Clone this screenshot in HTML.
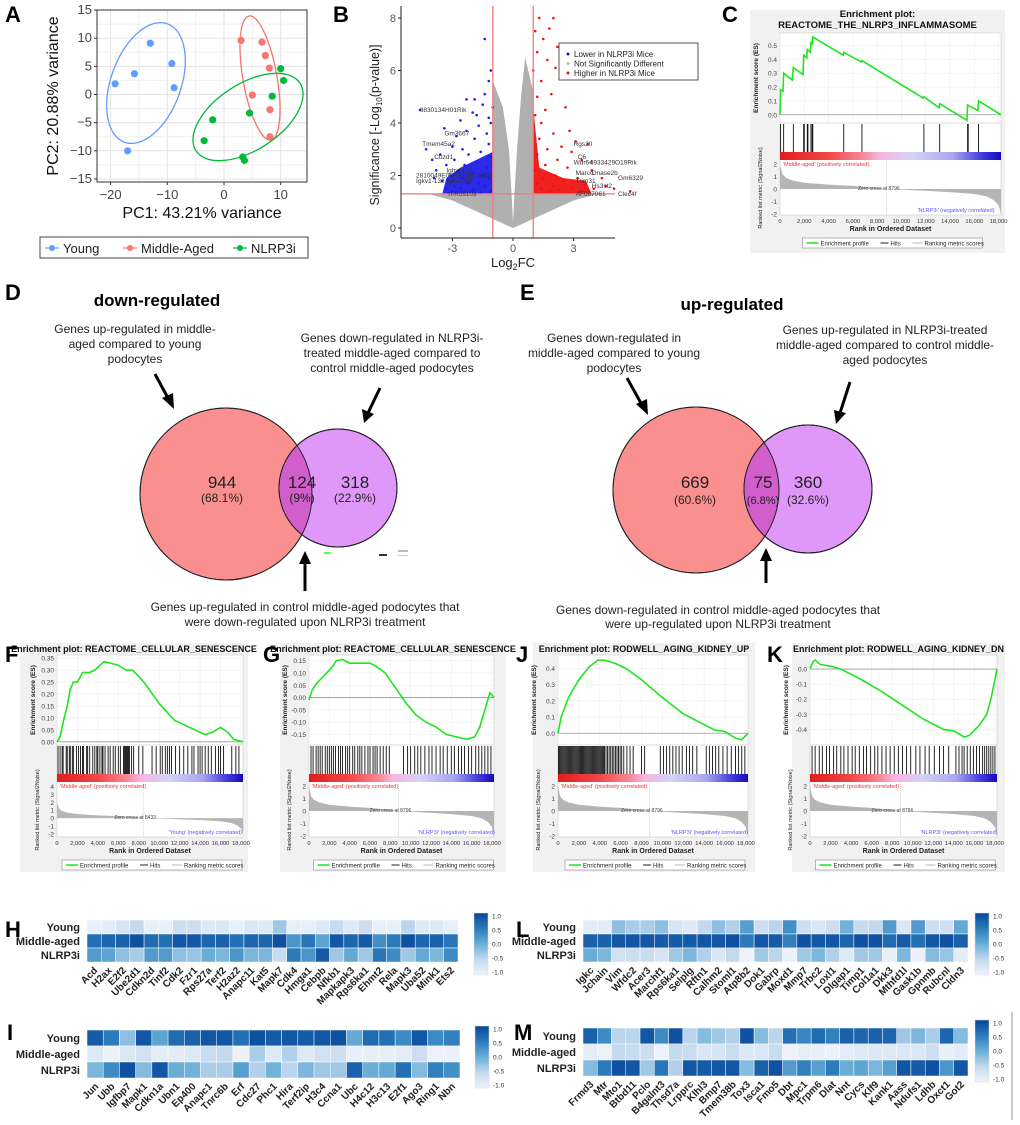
<!DOCTYPE html>
<html><head><meta charset="utf-8"><style>
html,body{margin:0;padding:0;background:#fff;}
svg{display:block;font-family:"Liberation Sans",sans-serif;}
.pl{font-weight:bold;font-size:22px;}
</style></head><body>
<svg id="fig" width="1020" height="1125" viewBox="0 0 1020 1125" xmlns="http://www.w3.org/2000/svg">
<defs>
<linearGradient id="rankbar" x1="0" x2="1" y1="0" y2="0">
<stop offset="0" stop-color="#e41c1c"/><stop offset="0.22" stop-color="#f04848"/><stop offset="0.38" stop-color="#f58a9a"/><stop offset="0.45" stop-color="#f5b5e0"/><stop offset="0.6" stop-color="#d5d2f5"/><stop offset="0.78" stop-color="#a9a6ef"/><stop offset="0.9" stop-color="#4b45e0"/><stop offset="1" stop-color="#1408c0"/>
</linearGradient>
<linearGradient id="cbar" x1="0" x2="0" y1="0" y2="1">
<stop offset="0" stop-color="#08469a"/><stop offset="0.25" stop-color="#2b7bba"/><stop offset="0.5" stop-color="#6aaed6"/><stop offset="0.75" stop-color="#c4d9ee"/><stop offset="1" stop-color="#f0f4fb"/>
</linearGradient>
<clipPath id="clipD"><circle cx="226" cy="494" r="86"/></clipPath>
<clipPath id="clipE"><circle cx="696" cy="490" r="83"/></clipPath>
</defs>

<text class="pl" x="5" y="22">A</text>
<text class="pl" x="333" y="22">B</text>
<text class="pl" x="722" y="22">C</text>
<text class="pl" x="5" y="300">D</text>
<text class="pl" x="520" y="300">E</text>
<text class="pl" x="5" y="662">F</text>
<text class="pl" x="263" y="662">G</text>
<text class="pl" x="516" y="662">J</text>
<text class="pl" x="767" y="662">K</text>
<text class="pl" x="5" y="937">H</text>
<text class="pl" x="7" y="1040">I</text>
<text class="pl" x="516" y="937">L</text>
<text class="pl" x="514" y="1040">M</text>

<g font-size="12" fill="#222">
<text x="157" y="306" font-size="17" font-weight="bold" text-anchor="middle" fill="#000">down-regulated</text>
<g text-anchor="middle"><text x="135" y="333">Genes up-regulated in middle-</text><text x="135" y="348">aged compared to young</text><text x="135" y="363">podocytes</text></g>
<g text-anchor="middle"><text x="392" y="342">Genes down-regulated in NLRP3i-</text><text x="392" y="357">treated middle-aged compared to</text><text x="392" y="372">control middle-aged podocytes</text></g>
<circle cx="226" cy="494" r="86" fill="#f9908f" stroke="#222" stroke-width="1"/>
<circle cx="338" cy="488" r="59" fill="#df97f8" stroke="#222" stroke-width="1"/>
<circle cx="338" cy="488" r="59" fill="#d25ecc" clip-path="url(#clipD)"/>
<circle cx="226" cy="494" r="86" fill="none" stroke="#222" stroke-width="1"/>
<circle cx="338" cy="488" r="59" fill="none" stroke="#222" stroke-width="1"/>
<text x="222" y="488" font-size="17" text-anchor="middle">944</text><text x="222" y="502" font-size="12" text-anchor="middle">(68.1%)</text>
<text x="302" y="488" font-size="17" text-anchor="middle">124</text><text x="302" y="502" font-size="12" text-anchor="middle">(9%)</text>
<text x="355" y="488" font-size="17" text-anchor="middle">318</text><text x="355" y="502" font-size="12" text-anchor="middle">(22.9%)</text>
<g stroke="#000" stroke-width="3" fill="#000">
<line x1="155" y1="374" x2="169" y2="400"/><polygon points="174,409 162,398 173,393" stroke="none"/>
<line x1="380" y1="388" x2="368" y2="413"/><polygon points="364,423 362,409 374,414" stroke="none"/>
<line x1="305" y1="591" x2="305" y2="562"/><polygon points="305,551 299,564 311,564" stroke="none"/>
</g>
<rect x="324" y="552" width="7" height="2" fill="#5f5"/><rect x="379" y="554" width="8" height="2" fill="#333"/><rect x="398" y="550" width="10" height="2" fill="#bbb"/><rect x="398" y="555" width="10" height="1" fill="#ccc"/>
<g text-anchor="middle"><text x="305" y="611">Genes up-regulated in control middle-aged podocytes that</text><text x="305" y="626">were down-regulated upon NLRP3i treatment</text></g>
</g>

<g font-size="12" fill="#222">
<text x="732" y="310" font-size="17" font-weight="bold" text-anchor="middle" fill="#000">up-regulated</text>
<g text-anchor="middle"><text x="614" y="342">Genes down-regulated in</text><text x="614" y="357">middle-aged compared to young</text><text x="614" y="372">podocytes</text></g>
<g text-anchor="middle"><text x="885" y="334">Genes up-regulated in NLRP3i-treated</text><text x="885" y="349">middle-aged compared to control middle-</text><text x="885" y="364">aged podocytes</text></g>
<circle cx="696" cy="490" r="83" fill="#f9908f" stroke="#222"/>
<circle cx="808" cy="489" r="64" fill="#df97f8" stroke="#222"/>
<circle cx="808" cy="489" r="64" fill="#d25ecc" clip-path="url(#clipE)"/>
<circle cx="696" cy="490" r="83" fill="none" stroke="#222"/>
<circle cx="808" cy="489" r="64" fill="none" stroke="#222"/>
<text x="695" y="488" font-size="17" text-anchor="middle">669</text><text x="695" y="504" font-size="12" text-anchor="middle">(60.6%)</text>
<text x="763" y="488" font-size="17" text-anchor="middle">75</text><text x="763" y="504" font-size="11" text-anchor="middle">(6.8%)</text>
<text x="808" y="488" font-size="17" text-anchor="middle">360</text><text x="808" y="504" font-size="12" text-anchor="middle">(32.6%)</text>
<g stroke="#000" stroke-width="3" fill="#000">
<line x1="627" y1="378" x2="642" y2="405"/><polygon points="648,415 636,404 647,399" stroke="none"/>
<line x1="850" y1="382" x2="840" y2="413"/><polygon points="836,424 834,410 846,413" stroke="none"/>
<line x1="766" y1="583" x2="766" y2="560"/><polygon points="766,548 760,561 772,561" stroke="none"/>
</g>
<g text-anchor="middle"><text x="718" y="614">Genes down-regulated in control middle-aged podocytes that</text><text x="718" y="628">were up-regulated upon NLRP3i treatment</text></g>
</g>
<line x1="1012" y1="1012" x2="1012" y2="1120" stroke="#999" stroke-width="1"/>
</svg>
<script>
const youngPC1=[-19.2,-15.8,-13,-9.2,-8.8,-17];
const youngPC2=[1.9,3.7,9.1,5.5,1.2,-10];
const midPC1=[3,6.7,7.3,8,5,8.1,8.1];
const midPC2=[9.6,9.3,6.9,4.7,-0.1,-2.7,-7.5];
const nlrPC1=[10,10.5,8.5,4.5,-2,-3.5,3.3,3.6];
const nlrPC2=[4.6,2.5,-0.3,-3.3,-4.5,-8.2,-11.1,-11.7];
const pcaXTicks=[-20,-10,0,10];
const pcaYTicks=[15,10,5,0,-5,-10,-15];
const volBlueFC=[-1.4,-1.1,-1.2,-1.9,-2.3,-1.4,-1.5,-1.0,-1.8,-2.0,-1.2,-1.1,-2.6,-1.7,-3.4,-2.3,-1.3,-2.8,-1.9,-3.0,-1.2,-2.5,-1.6,-3.6,-2.2,-1.1,-2.9,-1.8,-3.3,-2.4,-1.3,-3.8,-2.7,-2.0,-1.5,-3.1,-2.5,-1.2,-3.5,-2.2,-1.7,-2.9,-1.4,-3.3,-2.6,-2.0,-1.1,-3.0,-2.4,-1.6,-4.6,-3.9,-4.3,-4.0];
const volBlueP=[7.2,6.0,5.6,4.9,4.9,5.1,4.7,4.6,4.3,4.4,4.2,4.0,4.1,3.9,3.8,3.7,3.6,3.5,3.4,3.1,3.2,3.0,2.9,2.8,2.8,2.7,2.6,2.5,2.4,2.4,2.3,2.2,2.2,2.1,2.0,2.0,1.9,1.9,1.8,1.7,1.7,1.6,1.6,1.5,1.5,1.45,1.4,1.4,1.35,1.35,4.5,1.9,3.0,2.6];
const volRedFC=[1.3,2.0,1.8,1.1,1.5,2.2,1.2,1.7,2.1,1.0,1.4,2.5,1.9,1.2,2.6,1.6,1.1,3.1,2.8,1.4,2.0,1.3,2.4,1.7,3.7,2.9,1.2,2.2,3.4,1.6,2.7,1.1,3.9,2.1,3.2,1.5,2.5,4.4,1.2,3.6,2.0,2.9,1.4,4.0,2.3,3.3,1.8,5.0,5.8,4.6];
const volRedP=[8.0,8.0,7.6,7.5,7.2,6.9,6.7,6.4,6.1,6.0,5.6,5.7,5.1,5.0,4.6,4.5,4.3,3.3,3.7,4.0,3.6,3.4,3.1,3.0,3.2,2.9,2.8,2.6,2.6,2.4,2.3,2.2,2.2,2.0,1.9,1.9,1.8,1.9,1.7,1.7,1.6,1.55,1.5,1.5,1.45,1.4,1.4,1.5,1.4,1.6];
const volGreyFC=[-4.2,-3.0,-2.0,-1.0,-0.3,0,0.3,1.0,2.0,3.0,4.2,1.0,1.0,0.6,0.4,0.2,0.05,0,-0.05,-0.2,-0.5,-1.0,-1.0];
const volGreyP=[1.3,1.05,0.7,0.35,0.1,0,0.1,0.35,0.7,1.05,1.3,1.3,5.2,6.5,5.0,3.0,1.0,0.2,1.0,3.0,4.6,5.6,1.3];
const volBlueBlobFC=[-3.5,-3.3,-2.6,-1.8,-1.0,-1.0];
const volBlueBlobP=[1.3,1.9,2.3,2.6,2.9,1.3];
const volRedBlobFC=[1.0,1.0,1.3,2.5,3.6,3.9];
const volRedBlobP=[1.3,4.6,2.3,1.9,1.8,1.3];
const volXTicks=[-3,0,3,6];
const volYTicks=[0,2,4,6,8];
const volGeneNames=["Il830134H01Rik","Gm3667","Tmem45a2","Cuzd1","Ighv11-2","2810049E08Rik","Gm15008","Igkv1-132","Ighv1-55","n-R5s103","Rgs20","C6","Wdr64","4933429O19Rik","Marco","Dnase2b","Trim31","Gm6329","Hs3st2","AF067061","Clec4f"];
const volGeneFC=[-4.6,-3.4,-4.5,-3.9,-3.3,-4.8,-2.5,-4.8,-3.3,-3.2,3.0,3.2,3.0,3.8,3.1,3.9,3.1,5.2,3.9,3.1,5.2];
const volGeneP=[4.5,3.6,3.2,2.7,2.2,2.0,2.0,1.8,1.8,1.3,3.2,2.7,2.5,2.5,2.1,2.1,1.8,1.9,1.6,1.3,1.3];
const esC_rank=[0,0.05,0.25,0.3,1.0,1.1,1.9,1.95,2.2,2.25,2.5,2.55,2.65,2.7,5.2,5.25,6.7,6.75,11.8,11.85,13.1,13.15,15.4,15.45,16.3,16.35,18.2];
const esC_val=[0,0.18,0.17,0.3,0.25,0.34,0.29,0.43,0.41,0.47,0.45,0.52,0.51,0.56,0.43,0.45,0.38,0.39,0.12,0.13,0.05,0.08,-0.04,0.07,0.03,0.1,0];
const hitsC=[0.05,0.3,1.1,1.95,2.0,2.25,2.3,2.55,2.65,2.7,5.25,6.75,11.85,13.15,15.45,15.5,16.35];
const esF_rank=[0,0.3,0.7,1.0,1.3,1.6,2.0,2.5,3.2,3.7,4.2,4.6,5.2,6.0,6.8,7.4,8.5,10,11.5,12.5,13.5,14.5,15.2,16,16.7,17.3,18.2];
const esF_val=[0,0.02,0.1,0.15,0.22,0.25,0.25,0.29,0.29,0.3,0.32,0.335,0.33,0.32,0.3,0.3,0.25,0.16,0.09,0.07,0.05,0.03,0.04,0.06,0.04,0.01,0];
const hitsF=[0.1,0.3,0.5,0.6,0.9,1.0,1.2,1.3,1.5,1.6,1.9,2.1,2.3,2.5,2.6,2.9,3.0,3.2,3.5,3.7,3.9,4.0,4.2,4.4,4.5,4.7,5.0,5.2,5.5,5.7,6.0,6.2,6.5,6.6,6.7,6.8,6.9,7.0,7.1,7.3,7.5,8.0,8.4,9.3,9.7,10.1,10.3,10.6,10.8,11.0,11.2,11.6,12.0,12.4,12.8,13.2,13.4,13.8,14.0,14.2,14.5,14.8,15.1,15.5,15.8,16.0,16.3,17.1,17.5,17.8];
const esG_rank=[0,0.3,0.8,1.5,2.2,2.7,3.3,4,5,6,6.5,7.5,8.5,9.5,10.5,11.5,12.5,13.5,14.5,15.5,16.3,16.8,17.3,17.8,18.2];
const esG_val=[-0.01,0.03,0.06,0.09,0.12,0.15,0.155,0.14,0.14,0.14,0.13,0.1,0.04,-0.02,-0.07,-0.1,-0.12,-0.15,-0.16,-0.17,-0.16,-0.12,-0.05,0.02,0];
const hitsG=[0.2,0.4,0.7,0.9,1.1,1.3,1.6,1.8,2.0,2.2,2.4,2.6,2.9,3.1,3.3,3.6,3.8,4.0,4.3,4.5,4.8,5.0,5.2,5.5,5.8,6.0,6.3,6.5,6.7,7.0,7.3,7.6,7.9,9.3,9.7,10.0,10.4,10.7,11.0,11.4,11.8,12.1,12.5,12.9,13.2,13.6,14.0,14.3,14.7,15.0,15.3,15.7,16.0,16.4,16.7,17.0,17.3,17.6,17.9];
const esJ_rank=[0,0.3,1,2,3,3.8,4.5,5.5,6.5,8,10,12,13.5,15,16,17,17.6,18.2];
const esJ_val=[0,0.1,0.22,0.33,0.41,0.45,0.45,0.43,0.4,0.33,0.22,0.12,0.07,0.02,0.01,-0.03,-0.04,0];
const hitsJ=[0.05,0.15,0.25,0.35,0.45,0.55,0.65,0.75,0.85,0.95,1.05,1.15,1.25,1.35,1.45,1.55,1.65,1.75,1.85,1.95,2.05,2.15,2.25,2.35,2.45,2.55,2.65,2.75,2.85,2.95,3.05,3.15,3.25,3.35,3.45,3.55,3.65,3.75,3.85,3.95,4.05,4.15,4.25,4.35,4.45,4.6,4.75,4.9,5.05,5.2,5.35,5.5,5.65,5.8,5.95,6.1,6.3,6.6,6.9,7.2,8.0,8.3,9.8,10.1,10.4,10.7,11.0,11.3,11.6,11.9,12.3,12.6,12.9,13.3,14.2,14.5,14.8,15.1,15.4,15.8,16.2,16.6,17.0,17.3,17.6,17.9];
const esK_rank=[0,0.3,0.5,1,2,3,5,7,9,11,13,14,15,15.5,16.5,17.2,17.6,18.0,18.2];
const esK_val=[0,0.05,0.06,0.03,0.02,0,-0.07,-0.15,-0.24,-0.33,-0.4,-0.41,-0.45,-0.44,-0.37,-0.3,-0.2,-0.07,0];
const hitsK=[0.2,0.5,0.9,1.2,1.6,1.9,2.3,2.6,3.0,3.3,3.7,4.1,4.4,4.8,5.2,5.5,5.9,6.3,6.6,7.0,7.4,7.8,8.2,8.6,9.0,9.4,9.8,10.3,10.7,11.2,11.6,12.1,12.6,13.0,13.5,14.2,14.5,14.8,15.0,15.3,15.6,15.9,16.2,16.5,16.8,17.0,17.2,17.4,17.6,17.8,18.0];
const rankProfileR=[0,0.2,0.5,1,2,4,6,8,8.8,10,12,14,16,17,17.6,18,18.2];
const rankProfileV=[2,1.2,0.9,0.7,0.5,0.35,0.25,0.1,0,-0.05,-0.15,-0.25,-0.4,-0.6,-0.9,-1.3,-2];
const rankTicks=[0,2000,4000,6000,8000,10000,12000,14000,16000,18000];
const rowNames=["Young","Middle-aged","NLRP3i"];
const genesH=["Acd","H2ax","E2f2","Ube2d1","Cdkn2d","Tinf2","Cdk2","Fzr1","Rps27a","Terf2","H2az2","Anapc11","Kat5","Mapk7","Cdk4","Hmga1","Cebpb","Nfkb1","Mapkapk3","Rps6ka1","Ehmt2","Rela","Mapk3","Uba52","Mink1","Ets2"];
const hYoung=[-0.9,-0.85,-0.7,-0.5,-0.9,-0.9,-0.6,-0.6,-0.8,-0.75,-0.9,-0.75,-0.8,-0.3,-0.9,-0.9,-0.8,-0.55,-0.8,-0.6,-0.9,-0.9,-0.45,-0.8,-0.8,-0.9];
const hMid=[0.6,0.7,0.75,0.9,0.65,0.6,0.85,0.85,0.7,0.75,0.6,0.7,0.7,0.9,0.25,0.55,0.1,0.85,0.7,0.8,0.3,0.5,0.9,0.7,0.75,0.55];
const hNlr=[0.2,0.1,-0.2,-0.35,0.2,0.2,-0.2,-0.25,0,-0.1,0.25,-0.1,-0.1,-0.55,0.5,0.25,0.8,-0.3,0.05,-0.3,0.55,0.35,-0.3,0.05,-0.1,0.35];
const genesI=["Jun","Ubb","Igfbp7","Mapk1","Cdkn1a","Ubn1","Ep400","Anapc1","Tnrc6b","Erf","Cdc27","Phc1","Hira","Terf2ip","H3c4","Ccna1","Ubc","H4c12","H3c13","E2f1","Ago3","Ring1","Nbn"];
const iYoung=[0.8,0.5,-0.2,0.85,0.1,0.65,0.75,0.85,0.85,0.6,0.9,0.8,0.85,0.8,0.85,0.9,0.05,0.65,0.6,0.35,0.85,0.35,0.45];
const iMid=[-0.8,-0.95,-0.75,-0.65,-0.85,-0.85,-0.8,-0.55,-0.5,-0.95,-0.35,-0.8,-0.4,-0.8,-0.65,-0.6,-0.9,-0.9,-0.9,-0.85,-0.6,-0.95,-0.95];
const iNlr=[-0.1,0.35,0.9,-0.15,0.85,0,-0.05,-0.35,-0.35,0.15,-0.4,-0.05,-0.45,-0.1,-0.3,-0.3,0.75,0,0.05,0.6,-0.15,0.45,0.3];
const genesL=["Igkc","Jchain","Vim","Wfdc2","Acer3","Marchf1","Rps6ka1","Selplg","Rftn1","Calhm2","Stoml1","Atp8b2","Dok1","Gabrp","Moxd1","Mmp7","Trbc2","Loxl1","Dlgap1","Timp1","Col1a1","Dkk3","Mthfd1l","Gask1b","Gpnmb","Rubcnl","Cldn3"];
const lYoung=[-0.85,-0.85,-0.2,-0.35,-0.35,-0.2,-0.7,-0.8,-0.5,-0.2,-0.4,0.15,-0.6,-0.45,0.3,-0.6,-0.75,-0.6,-0.05,-0.55,-0.5,0.2,-0.75,0.2,-0.6,-0.65,0.05];
const lMid=[0.75,0.75,0.85,0.85,0.85,0.8,0.8,0.8,0.85,0.85,0.9,0.5,0.85,0.8,0.45,0.9,0.85,0.85,0.7,0.9,0.9,0.65,0.8,0.6,0.85,0.9,0.75];
const lNlr=[0,-0.1,-0.65,-0.6,-0.55,-0.7,-0.3,-0.1,-0.4,-0.75,-0.5,-0.95,-0.3,-0.45,-0.95,-0.3,-0.1,-0.4,-0.8,-0.3,-0.3,-0.9,-0.1,-0.95,-0.15,-0.25,-0.85];
const genesM=["Frmd3","Mtr","Mto1","Btbd11","Pclo","B4galnt3","Thsd7a","Lrpprc","Klhl3","Bmp7","Tmem38b","Tox3","Isca1","Fmo5","Dbt","Mpc1","Trpm6","Dlat","Nnt","Cycs","Klf9","Kank1","Aass","Ndufs1","Ldhb","Oxct1","Got2"];
const mYoung=[0.75,0.35,-0.45,-0.45,0.85,0.35,0.9,-0.45,-0.15,-0.3,-0.4,0.9,-0.15,-0.45,0.6,0.4,0.65,0.45,0.75,0.7,0.75,0.7,-0.3,-0.1,-0.35,0.7,-0.15];
const mMid=[-0.85,-0.95,-0.5,-0.55,-0.6,-0.95,-0.5,-0.55,-0.75,-0.7,-0.55,-0.75,-0.75,-0.55,-0.95,-0.9,-0.9,-0.95,-0.85,-0.8,-0.75,-0.8,-0.75,-0.75,-0.6,-0.9,-0.85];
const mNlr=[-0.15,0.5,0.9,0.85,-0.3,0.55,-0.4,0.85,0.8,0.85,0.85,-0.15,0.75,0.9,0.2,0.45,0.15,0.5,0.0,0.1,-0.1,0.15,0.85,0.8,0.9,0.25,0.85];
const cbTicks=[1.0,0.5,0.0,-0.5,-1.0];

const NS='http://www.w3.org/2000/svg';
const svg=document.getElementById('fig');
function mk(parent,tag,attrs,text){const e=document.createElementNS(NS,tag);for(const k in attrs)e.setAttribute(k,attrs[k]);if(text!=null)e.textContent=text;parent.appendChild(e);return e;}

(function(){
  const sx=v=>224+v*5.67, sy=v=>94.5-v*5.63;
  const g=mk(svg,'g',{});
  
  
  const bg=mk(g,'rect',{x:97,y:10,width:210,height:172,fill:'#fff',stroke:'#333','stroke-width':1});
  
  
  for(let v=-20;v<=10;v+=5){const l=mk(g,'line',{x1:sx(v),x2:sx(v),y1:10,y2:182,stroke:v%10===0?'#e3e3e3':'#f0f0f0'});}
  for(let v=-15;v<=15;v+=2.5){const l=mk(g,'line',{x1:97,x2:307,y1:sy(v),y2:sy(v),stroke:v%5===0?'#e3e3e3':'#f0f0f0'});}
  mk(g,'rect',{x:97,y:10,width:210,height:172,fill:'none',stroke:'#333','stroke-width':1});
  pcaXTicks.forEach(v=>{const t=mk(g,'text',{x:sx(v),y:199,'font-size':13,'text-anchor':'middle',fill:'#444'},v===0?'0':(v<0?'\u2212'+(-v):v));mk(g,'line',{x1:sx(v),x2:sx(v),y1:182,y2:185,stroke:'#333'});});
  pcaYTicks.forEach(v=>{const t=mk(g,'text',{x:92,y:sy(v)+4,'font-size':13,'text-anchor':'end',fill:'#444'},v===0?'0':(v<0?'\u2212'+(-v):v));mk(g,'line',{x1:94,x2:97,y1:sy(v),y2:sy(v),stroke:'#333'});});
  const xt=mk(g,'text',{x:202,y:218,'font-size':16,'text-anchor':'middle',fill:'#111'},'PC1: 43.21% variance');
  
  
  const yt=mk(g,'text',{x:0,y:0,'font-size':16,'text-anchor':'middle',fill:'#111',transform:'translate(58,96) rotate(-90)'},'PC2: 20.88% variance');
  
  
  const ells=[[146,83,35,63,20,'#619cff'],[260,78,17,63,-10,'#f8766d'],[248,117,62,33,-33,'#00ba38']];
  ells.forEach(e=>{const el=mk(g,'ellipse',{cx:e[0],cy:e[1],rx:e[2],ry:e[3],transform:`rotate(${e[4]} ${e[0]} ${e[1]})`,fill:'none',stroke:e[5],'stroke-width':1.3});});
  const groups=[[youngPC1,youngPC2,'#619cff','pca-point-young'],[midPC1,midPC2,'#f8766d','pca-point-middle-aged'],[nlrPC1,nlrPC2,'#00ba38','pca-point-nlrp3i']];
  groups.forEach(gr=>gr[0].forEach((x,i)=>{const c=mk(g,'circle',{cx:sx(x),cy:sy(gr[1][i]),r:3.6,fill:gr[2]});}));
  const lg=mk(g,'g',{});
  
  
  mk(lg,'rect',{x:40,y:237,width:268,height:21,fill:'#fff',stroke:'#444'});
  const ents=[[45,'#619cff','Young'],[123,'#f8766d','Middle-Aged'],[233,'#00ba38','NLRP3i']];
  ents.forEach(en=>{const eg=mk(lg,'g',{});mk(eg,'line',{x1:en[0],x2:en[0]+14,y1:248,y2:248,stroke:en[1],'stroke-width':1.2});mk(eg,'circle',{cx:en[0]+7,cy:248,r:3,fill:en[1]});mk(eg,'text',{x:en[0]+18,y:253,'font-size':13,fill:'#222'},en[2]);});
})();

(function(){
  const vx=v=>513+v*20.2, vy=v=>228-v*26.25;
  const g=mk(svg,'g',{});
  
  
  const pts=(a,b)=>a.map((x,i)=>vx(x)+','+vy(b[i])).join(' ');
  const grey=mk(g,'polygon',{points:pts(volGreyFC,volGreyP),fill:'#b0b0b0'});
  
  
  const bb=mk(g,'polygon',{points:pts(volBlueBlobFC,volBlueBlobP),fill:'#2a2ae8'});
  
  
  const rb=mk(g,'polygon',{points:pts(volRedBlobFC,volRedBlobP),fill:'#ee2020'});
  
  
  volBlueFC.forEach((x,i)=>{const c=mk(g,'circle',{cx:vx(x),cy:vy(volBlueP[i]),r:1.3,fill:'#1a1aee'});});
  volRedFC.forEach((x,i)=>{const c=mk(g,'circle',{cx:vx(x),cy:vy(volRedP[i]),r:1.3,fill:'#ee1111'});});
  [-1,1].forEach(v=>{const l=mk(g,'line',{x1:vx(v),x2:vx(v),y1:6,y2:238,stroke:'#f07a7a','stroke-width':1.3});});
  const hl=mk(g,'line',{x1:401,x2:615,y1:vy(1.3),y2:vy(1.3),stroke:'#f07a7a','stroke-width':1.3});
  
  
  volGeneNames.forEach((n,i)=>{const t=mk(g,'text',{x:vx(volGeneFC[i]),y:vy(volGeneP[i])+2,'font-size':6.5,fill:'#333'},n);});
  mk(g,'line',{x1:401,x2:401,y1:6,y2:238,stroke:'#222'});
  mk(g,'line',{x1:401,x2:615,y1:238,y2:238,stroke:'#222'});
  volXTicks.forEach(v=>{if(vx(v)>615)return;const t=mk(g,'text',{x:vx(v),y:252,'font-size':11,'text-anchor':'middle',fill:'#555'},v);mk(g,'line',{x1:vx(v),x2:vx(v),y1:238,y2:241,stroke:'#222'});});
  volYTicks.forEach(v=>{const t=mk(g,'text',{x:396,y:vy(v)+4,'font-size':11,'text-anchor':'end',fill:'#555'},v);mk(g,'line',{x1:398,x2:401,y1:vy(v),y2:vy(v),stroke:'#222'});});
  const xt=mk(g,'text',{x:513,y:267,'font-size':13,'text-anchor':'middle',fill:'#222'});
  
  
  xt.innerHTML='Log<tspan font-size="9" dy="3">2</tspan><tspan dy="-3">FC</tspan>';
  const yt=mk(g,'text',{x:0,y:0,'font-size':12.5,'text-anchor':'middle',fill:'#222',transform:'translate(379,125) rotate(-90)'});
  
  
  yt.innerHTML='Significance [-Log<tspan font-size="8" dy="3">10</tspan><tspan dy="-3">(p-value)]</tspan>';
  const lg=mk(g,'g',{});
  
  
  mk(lg,'rect',{x:559,y:43,width:139,height:37,fill:'#fff',stroke:'#555'});
  [['#1a1aee','Lower in NLRP3i Mice'],['#bbb','Not Significantly Different'],['#ee1111','Higher in NLRP3i Mice']].forEach((e,i)=>{const eg=mk(lg,'g',{});mk(eg,'circle',{cx:568,cy:54+i*9.5,r:1.5,fill:e[0]});mk(eg,'text',{x:574,y:57+i*9.5,'font-size':8,fill:'#222'},e[1]);});
})();

function gsea(o){
  const g=mk(svg,'g',{});
  
  
  const bg=mk(g,'rect',{x:o.bx,y:o.by,width:o.bw,height:o.bh,fill:'#f1f1f1'});
  
  
  const x0=o.x0,x1=o.x1,T=o.top;
  const rx=r=>x0+r/18.2*(x1-x0);
  const ey=v=>T+2+(o.esMax-v)/(o.esMax-o.esMin)*86;
  o.title.forEach((t,i)=>{const tt=mk(g,'text',{x:(o.bx+o.bw/2),y:o.titleY+i*11,'font-size':o.titleSize||9.5,'font-weight':'bold','text-anchor':'middle',fill:'#111'},t);});
  mk(g,'rect',{x:x0,y:T,width:x1-x0,height:182,fill:'#fff',stroke:'#ccc','stroke-width':0.6});
  for(let k=0;k<=9;k++){mk(g,'line',{x1:rx(k*2),x2:rx(k*2),y1:T,y2:T+90,stroke:'#eee','stroke-width':0.6});}
  o.ticks.forEach(v=>{mk(g,'line',{x1:x0,x2:x1,y1:ey(v),y2:ey(v),stroke:'#eee','stroke-width':0.6});const t=mk(g,'text',{x:x0-3,y:ey(v)+2.5,'font-size':6.5,'text-anchor':'end',fill:'#444'},v.toFixed(2).replace(/0$/,o.tickFmt1?'':'0'));});
  mk(g,'line',{x1:x0,x2:x1,y1:ey(0),y2:ey(0),stroke:'#999','stroke-width':0.8});
  mk(g,'line',{x1:x0,x2:x1,y1:T+90,y2:T+90,stroke:'#bbb','stroke-width':0.6});
  const yl=mk(g,'text',{x:0,y:0,'font-size':6.5,'font-weight':'bold','text-anchor':'middle',fill:'#222',transform:`translate(${x0-22},${T+45}) rotate(-90)`},'Enrichment score (ES)');
  
  
  const line=mk(g,'polyline',{points:o.r.map((r,i)=>rx(r)+','+ey(o.v[i])).join(' '),fill:'none',stroke:'#1ee61e','stroke-width':1.6});
  
  
  o.hits.forEach(h=>{const l=mk(g,'line',{x1:rx(h),x2:rx(h),y1:T+91,y2:T+119,stroke:'#111','stroke-width':0.9});});
  const bar=mk(g,'rect',{x:x0,y:T+119,width:x1-x0,height:8,fill:'url(#rankbar)'});
  
  
  const my=v=>T+130+(o.mMax-v)/(o.mMax-o.mMin)*52;
  o.mTicks.forEach(v=>{mk(g,'text',{x:x0-3,y:my(v)+2.5,'font-size':6.5,'text-anchor':'end',fill:'#444'},v);});
  const area='M'+rx(0)+','+my(0)+' '+rankProfileR.map((r,i)=>'L'+rx(r)+','+my(rankProfileV[i])).join(' ')+' L'+rx(18.2)+','+my(0)+'Z';
  const ar=mk(g,'path',{d:area,fill:'#b5b5b5'});
  
  
  mk(g,'line',{x1:rx(o.zc),x2:rx(o.zc),y1:T+127,y2:T+182,stroke:'#aaa','stroke-width':0.5,'stroke-dasharray':'1,1'});
  mk(g,'text',{x:rx(o.zc)-8,y:my(0)+1,'font-size':5,'text-anchor':'middle',fill:'#444'},'Zero cross at '+Math.round(o.zc*1000));
  mk(g,'text',{x:x0+3,y:T+133,'font-size':5.5,fill:'#e33'},"'Middle-aged' (positively correlated)");
  mk(g,'text',{x:rx(14.5),y:T+179,'font-size':5.5,'text-anchor':'middle',fill:'#55f'},o.neg+' (negatively correlated)');
  const rl=mk(g,'text',{x:0,y:0,'font-size':5.5,'text-anchor':'middle',fill:'#222',transform:`translate(${x0-18},${T+155}) rotate(-90)`},'Ranked list metric (Signal2Noise)');
  
  
  rankTicks.forEach(v=>{const t=mk(g,'text',{x:rx(v/1000),y:T+190,'font-size':5.8,'text-anchor':'middle',fill:'#333'},v.toLocaleString('en-US'));});
  const xl=mk(g,'text',{x:(x0+x1)/2,y:T+198,'font-size':7,'font-weight':'bold','text-anchor':'middle',fill:'#222'},'Rank in Ordered Dataset');
  
  
  const lx=(x0+x1)/2-88;
  const lg=mk(g,'g',{});
  
  
  mk(lg,'rect',{x:lx,y:T+205,width:180,height:10,fill:'#fff',stroke:'#888','stroke-width':0.6});
  mk(lg,'line',{x1:lx+4,x2:lx+16,y1:T+210,y2:T+210,stroke:'#1ee61e','stroke-width':1.5});
  mk(lg,'text',{x:lx+18,y:T+212.5,'font-size':6,fill:'#222'},'Enrichment profile');
  mk(lg,'line',{x1:lx+78,x2:lx+86,y1:T+210,y2:T+210,stroke:'#222'});
  mk(lg,'text',{x:lx+88,y:T+212.5,'font-size':6,fill:'#222'},'Hits');
  mk(lg,'line',{x1:lx+110,x2:lx+120,y1:T+210,y2:T+210,stroke:'#bbb'});
  mk(lg,'text',{x:lx+122,y:T+212.5,'font-size':6,fill:'#222'},'Ranking metric scores');
}
gsea({name:'gsea-nlrp3-inflammasome',bx:750,by:10,bw:255,bh:243,x0:780,x1:1001,top:33,titleY:17,title:['Enrichment plot:','REACTOME_THE_NLRP3_INFLAMMASOME'],esMin:-0.045,esMax:0.575,ticks:[0,0.1,0.2,0.3,0.4,0.5],r:esC_rank,v:esC_val,hits:hitsC,mMin:-2.1,mMax:2.1,mTicks:[2,1,0,-1,-2],zc:8.796,neg:"'NLRP3i'",tickFmt1:true});
gsea({name:'gsea-cellular-senescence-f',bx:20,by:643,bw:228,bh:229,x0:57,x1:243,top:655,titleY:652,title:['Enrichment plot: REACTOME_CELLULAR_SENESCENCE'],titleSize:9,esMin:-0.005,esMax:0.355,ticks:[0,0.05,0.1,0.15,0.2,0.25,0.3,0.35],r:esF_rank,v:esF_val,hits:hitsF,mMin:-2.4,mMax:4.2,mTicks:[4,3,2,1,0,-1,-2],zc:8.433,neg:"'Young'"});
gsea({name:'gsea-cellular-senescence-g',bx:280,by:643,bw:226,bh:229,x0:309,x1:494,top:655,titleY:652,title:['Enrichment plot: REACTOME_CELLULAR_SENESCENCE'],titleSize:9,esMin:-0.185,esMax:0.165,ticks:[0.15,0.1,0.05,0,-0.05,-0.1,-0.15],r:esG_rank,v:esG_val,hits:hitsG,mMin:-2.1,mMax:2.1,mTicks:[2,1,0,-1,-2],zc:8.796,neg:"'NLRP3i'"});
gsea({name:'gsea-aging-kidney-up',bx:533,by:643,bw:222,bh:229,x0:558,x1:748,top:655,titleY:652,title:['Enrichment plot: RODWELL_AGING_KIDNEY_UP'],titleSize:9,esMin:-0.06,esMax:0.47,ticks:[0,0.1,0.2,0.3,0.4],r:esJ_rank,v:esJ_val,hits:hitsJ,mMin:-2.1,mMax:2.1,mTicks:[2,1,0,-1,-2],zc:8.796,neg:"'NLRP3i'",tickFmt1:true});
gsea({name:'gsea-aging-kidney-dn',bx:792,by:643,bw:213,bh:229,x0:810,x1:997,top:655,titleY:652,title:['Enrichment plot: RODWELL_AGING_KIDNEY_DN'],titleSize:9,esMin:-0.49,esMax:0.08,ticks:[0,-0.1,-0.2,-0.3,-0.4],r:esK_rank,v:esK_val,hits:hitsK,mMin:-2.1,mMax:2.1,mTicks:[2,1,0,-1,-2],zc:8.796,neg:"'NLRP3i'",tickFmt1:true});

function hcol(v){
  const st=[[-1,[240,244,251]],[-0.5,[196,217,238]],[0,[106,174,214]],[0.5,[43,123,186]],[1,[8,70,154]]];
  v=Math.max(-1,Math.min(1,v));
  for(let i=0;i<st.length-1;i++){if(v<=st[i+1][0]){const t=(v-st[i][0])/(st[i+1][0]-st[i][0]);const a=st[i][1],b=st[i+1][1];return `rgb(${a.map((c,j)=>Math.round(c+(b[j]-c)*t)).join(',')})`;}}
  return 'rgb(8,70,154)';
}
function heat(o){
  const g=mk(svg,'g',{});
  
  
  const n=o.genes.length, cw=(o.x1-o.x0)/n;
  o.rows.forEach((row,ri)=>{
    const rl=mk(g,'text',{x:o.x0-7,y:o.y0+ri*o.rh+o.rh/2+4,'font-size':11,'font-weight':'bold','text-anchor':'end',fill:'#222'},rowNames[ri]);
    
    
    row.forEach((v,ci)=>{const c=mk(g,'rect',{x:o.x0+ci*cw,y:o.y0+ri*o.rh,width:cw,height:o.rh,fill:hcol(v),stroke:'#fff','stroke-width':0.5});});
  });
  const yb=o.y0+3*o.rh;
  o.genes.forEach((gn,ci)=>{const cx=o.x0+(ci+0.5)*cw;const t=mk(g,'text',{x:0,y:0,'font-size':10,'font-weight':'bold','text-anchor':'end',fill:'#222',transform:`translate(${cx+4},${yb+9}) rotate(-45)`},gn);});
  const cb=mk(g,'rect',{x:o.cbx,y:o.cby,width:14,height:62,fill:'url(#cbar)',stroke:'#ddd','stroke-width':0.5});
  
  
  cbTicks.forEach(v=>{const yy=o.cby+3+(1-v)/2*56;const t=mk(g,'text',{x:o.cbx+18,y:yy+2.5,'font-size':6.5,fill:'#333'},v.toFixed(1));});
}
heat({name:'heatmap-h-senescence',genes:genesH,rows:[hYoung,hMid,hNlr],x0:87,x1:458,y0:920,rh:14,cbx:474,cby:913});
heat({name:'heatmap-i-senescence',genes:genesI,rows:[iYoung,iMid,iNlr],x0:87,x1:460,y0:1030,rh:16,cbx:475,cby:1026});
heat({name:'heatmap-l-aging-up',genes:genesL,rows:[lYoung,lMid,lNlr],x0:583,x1:968,y0:920,rh:14,cbx:975,cby:913});
heat({name:'heatmap-m-aging-dn',genes:genesM,rows:[mYoung,mMid,mNlr],x0:583,x1:968,y0:1028,rh:16,cbx:975,cby:1020});
</script>
</body></html>
